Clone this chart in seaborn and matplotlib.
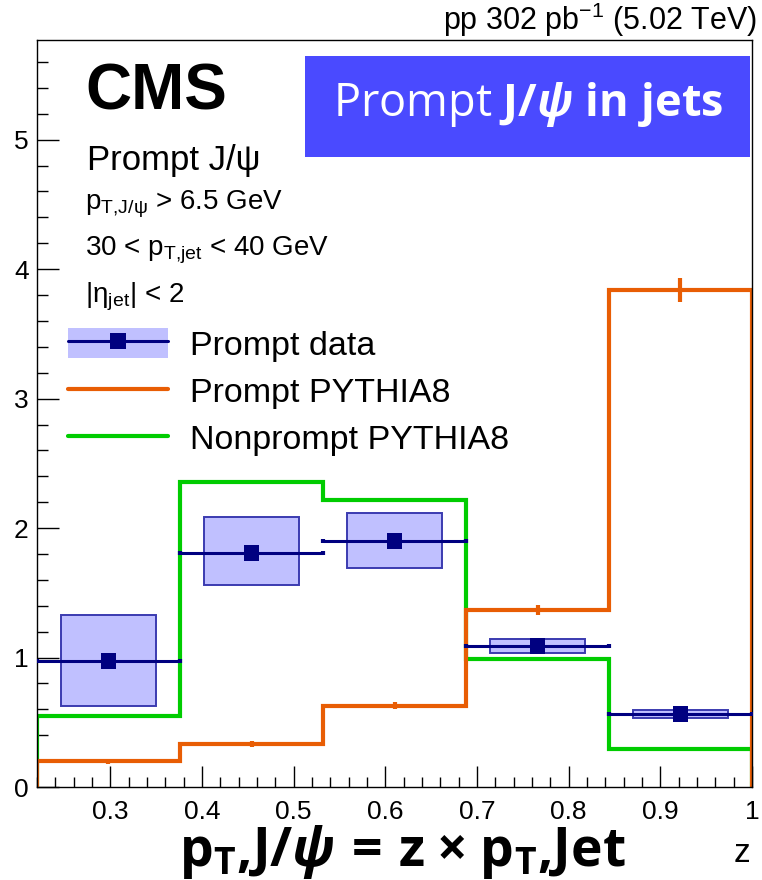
import numpy as np
import matplotlib
matplotlib.use("Agg")
import matplotlib.pyplot as plt
import seaborn as sns
from matplotlib.patches import Rectangle, Patch
from matplotlib.lines import Line2D
from matplotlib.legend_handler import HandlerTuple
from matplotlib.ticker import MultipleLocator

# z bins and measured / simulated fragmentation values
bin_edges = [0.22, 0.376, 0.532, 0.688, 0.844, 1.0]
data_vals = [0.973, 1.807, 1.900, 1.089, 0.564]
data_stat = [0.04, 0.04, 0.04, 0.03, 0.02]
sys_low = [0.626, 1.560, 1.689, 1.035, 0.533]
sys_high = [1.331, 2.087, 2.113, 1.140, 0.595]
prompt_mc = [0.200, 0.332, 0.628, 1.367, 3.840]
prompt_mc_err = [0.02, 0.02, 0.025, 0.04, 0.095]
nonprompt_mc = [0.550, 2.356, 2.215, 0.990, 0.296]
nonprompt_mc_err = [0.01, 0.01, 0.01, 0.01, 0.01]
x_ticks = [0.3, 0.4, 0.5, 0.6, 0.7, 0.8, 0.9, 1.0]
x_tick_labels = ["0.3", "0.4", "0.5", "0.6", "0.7", "0.8", "0.9", "1"]
y_ticks = [0, 1, 2, 3, 4, 5]
y_tick_labels = ["0", "1", "2", "3", "4", "5"]

NAVY = "#000080"
ORANGE = "#e85d04"
GREEN = "#00cc00"
BOX_FILL = "#c0c0ff"
BOX_EDGE = "#3b3bb0"
BANNER = "#4a4aff"

sns.set_theme(style="ticks")
plt.rcParams.update({
    "font.family": ["Liberation Sans", "DejaVu Sans"],
    "mathtext.fontset": "custom",
    "mathtext.rm": "Liberation Sans",
    "mathtext.it": "Liberation Sans:italic",
    "mathtext.bf": "Open Sans:bold",
    "mathtext.bfit": "Open Sans:bold:italic",
    "mathtext.default": "regular",
    "text.color": "black",
    "axes.labelcolor": "black",
    "xtick.color": "black",
    "ytick.color": "black",
    "axes.edgecolor": "black",
    "axes.linewidth": 1.0,
})

W, H = 762, 880
fig = plt.figure(figsize=(W / 100, H / 100), dpi=100)
ax = fig.add_axes([37 / W, 1 - 787 / H, (752 - 37) / W, (787 - 40) / H])

edges = np.array(bin_edges)
centers = 0.5 * (edges[:-1] + edges[1:])
widths = np.diff(edges)
d = np.array(data_vals)
lo = np.array(sys_low)
hi = np.array(sys_high)

# simulated distributions as histograms
ax.stairs(nonprompt_mc, edges, baseline=0, color=GREEN, lw=3.0, zorder=2)
ax.errorbar(centers, nonprompt_mc, yerr=nonprompt_mc_err, fmt="none",
            ecolor=GREEN, elinewidth=3.0, zorder=2)
ax.stairs(prompt_mc, edges, baseline=0, color=ORANGE, lw=3.0, zorder=2)
ax.errorbar(centers, prompt_mc, yerr=prompt_mc_err, fmt="none",
            ecolor=ORANGE, elinewidth=3.0, zorder=2)

# systematic uncertainty boxes
ax.bar(centers, hi - lo, bottom=lo, width=widths * 2 / 3,
       facecolor=BOX_FILL, edgecolor=BOX_EDGE, linewidth=1.4, zorder=3)

# data points with bin-width and statistical bars
ax.errorbar(centers, d, xerr=widths / 2, yerr=data_stat, fmt="none",
            ecolor=NAVY, elinewidth=2.2, capsize=1.5, capthick=3, zorder=4)
sns.scatterplot(x=centers, y=d, marker="s", s=120, color=NAVY,
                edgecolor="none", linewidth=0, zorder=5, ax=ax, legend=False)

ax.set_xlim(0.22, 1.0)
ax.set_ylim(0, 5.77)
ax.set_xticks(x_ticks)
ax.set_xticklabels(x_tick_labels)
ax.set_yticks(y_ticks)
ax.set_yticklabels(y_tick_labels)
ax.xaxis.set_minor_locator(MultipleLocator(0.02))
ax.yaxis.set_minor_locator(MultipleLocator(0.2))
ax.tick_params(axis="both", which="both", direction="in", top=False,
               right=False, colors="black", labelsize=19)
ax.tick_params(axis="x", which="major", length=15, width=1, pad=9)
ax.tick_params(axis="x", which="minor", length=7, width=1)
ax.tick_params(axis="y", which="major", length=16, width=1, pad=6)
ax.tick_params(axis="y", which="minor", length=8, width=1)
for s in ax.spines.values():
    s.set_visible(True)
    s.set_color("black")
    s.set_linewidth(1.0)
ax.set_xlabel("")
ax.set_ylabel("")

# legend
h_data = (Patch(facecolor=BOX_FILL, edgecolor="none"),
          Line2D([], [], color=NAVY, lw=2.2, marker="s", markersize=11,
                 markeredgewidth=0))
h_prompt = Line2D([], [], color=ORANGE, lw=3)
h_nonprompt = Line2D([], [], color=GREEN, lw=3)
fig.legend([h_data, h_prompt, h_nonprompt],
           ["Prompt data", "Prompt PYTHIA8", "Nonprompt PYTHIA8"],
           handler_map={tuple: HandlerTuple(ndivide=1, pad=0)},
           loc="upper left", bbox_to_anchor=(68 / W, 1 - 328 / H),
           frameon=False, fontsize=24.5, handlelength=2.94, handleheight=0.98,
           handletextpad=0.64, labelspacing=0.40, borderpad=0,
           borderaxespad=0)

# annotations
fig.text(757 / W, 1 - 30 / H, "pp 302 pb$^{-1}$ (5.02 TeV)", ha="right",
         va="baseline", fontsize=22)
fig.text(85 / W, 1 - 109 / H, "CMS", ha="left", va="baseline", fontsize=46,
         fontweight="bold")
fig.text(87 / W, 1 - 170 / H, "Prompt J/\u03c8", ha="left", va="baseline",
         fontsize=25)
fig.text(85 / W, 1 - 210 / H, r"p$_{T{,}J/\psi}$ > 6.5 GeV", ha="left",
         va="baseline", fontsize=20)
fig.text(85 / W, 1 - 255 / H, r"30 < p$_{T{,}jet}$ < 40 GeV", ha="left",
         va="baseline", fontsize=20)
fig.text(85 / W, 1 - 302 / H, r"|$\eta_{jet}$| < 2", ha="left",
         va="baseline", fontsize=20)

fig.patches.append(Rectangle((305 / W, 1 - 157 / H), (750 - 305) / W,
                             (157 - 56) / H, transform=fig.transFigure,
                             facecolor=BANNER, edgecolor="none", zorder=6))
fig.text(528 / W, 1 - 116 / H,
         r"Prompt $\mathbf{J/}\mathbfit{\psi}$ $\mathbf{in\ jets}$",
         ha="center", va="baseline", fontsize=32.5, color="white",
         family=["Open Sans", "DejaVu Sans"], zorder=7)

fig.text(402 / W, 1 - 866 / H,
         r"$\mathbf{p_{T}{,}J/}\mathbfit{\psi}\,\mathbf{=}\,\mathbf{z}\;"
         r"\mathbf{\times}\;\mathbf{p_{T}{,}Jet}$",
         ha="center", va="baseline", fontsize=38.5,
         family=["Open Sans", "DejaVu Sans"])
fig.text(742 / W, 1 - 862 / H, "z", ha="center", va="baseline", fontsize=24)

fig.savefig("out.png", dpi=100)
